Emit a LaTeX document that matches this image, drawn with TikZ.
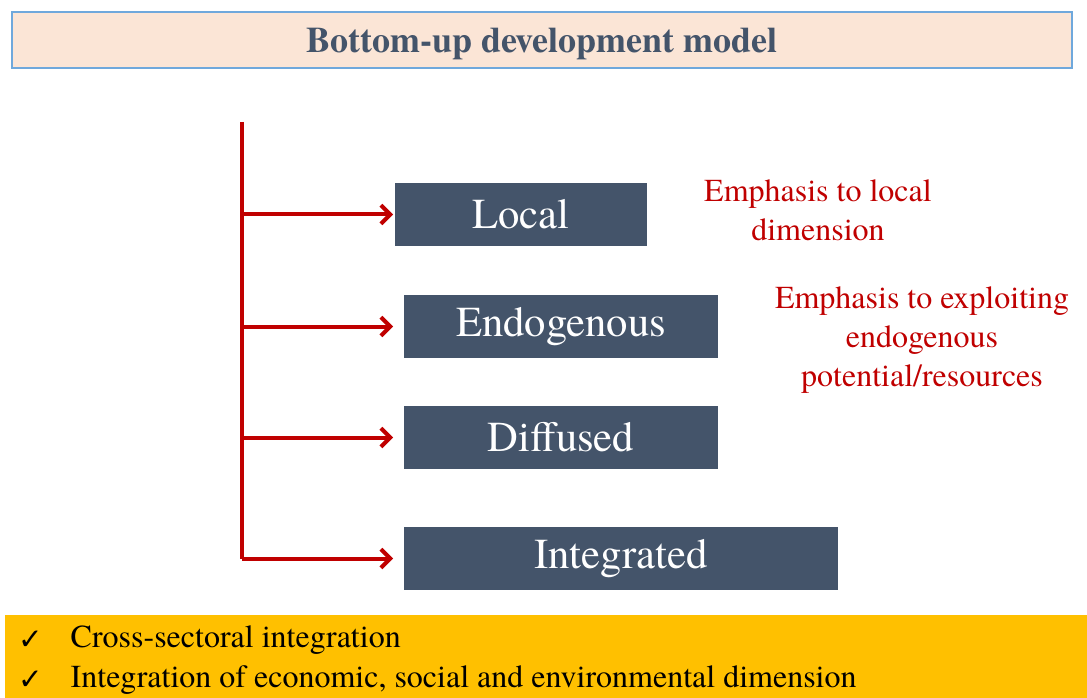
\documentclass[tikz,border=0pt]{standalone}
\usepackage{fontspec}
\setmainfont{TeX Gyre Termes}
\newfontfamily\symfont{DejaVu Sans}
\usetikzlibrary{arrows.meta}
\definecolor{slate}{HTML}{44546A}
\definecolor{darkred}{HTML}{C00000}
\definecolor{peach}{HTML}{FBE5D6}
\definecolor{frameblue}{HTML}{6FA8DC}
\definecolor{amber}{HTML}{FFC000}

\begin{document}
\begin{tikzpicture}[x=0.75pt,y=-0.75pt,
    box/.style={fill=slate, text=white, inner sep=0pt, minimum height=47.25pt,
        font=\fontsize{32}{36}\selectfont},
    note/.style={text=darkred, align=center, font=\fontsize{24}{29}\selectfont},
    branch/.style={draw=darkred, line width=3pt,
        -{Straight Barb[length=7pt,width=14pt,line width=3pt]}},
    tick/.style={font=\symfont\fontsize{22}{24}\selectfont, anchor=west},
    item/.style={anchor=west, font=\fontsize{24}{28}\selectfont}]
    \useasboundingbox (0,0) rectangle (1087,698);

    % title
    \node[draw=frameblue, line width=1pt, fill=peach, minimum width=795pt,
        minimum height=42pt, inner sep=0pt, text depth=0pt, text=slate,
        font=\bfseries\fontsize{27}{30}\selectfont] (title) at (542,40)
        {Bottom-up development model};

    % boxes
    \node[box, minimum width=189pt] (local) at (521,214.5) {Local};
    \node[box, minimum width=235.5pt] (endo) at (561,326.5) {Endogenous};
    \node[box, minimum width=235.5pt] (diff) at (561,437.5) {Diffused};
    \node[box, minimum width=325.5pt] (integ) at (621,558.5) {Integrated};

    % trunk and arrows
    \coordinate (top) at (242,122);
    \coordinate (bottom) at (242,558.5);
    \coordinate (tip) at (393,0);
    \draw[darkred, line width=3pt] (top) -- (bottom);
    \foreach \b in {local,endo,diff,integ}
        \draw[branch] (\b.west -| top) -- (\b.west -| tip);

    % notes
    \node[note] (lnote) at (818,210) {Emphasis to local\\dimension};
    \node[note] (enote) at (922,340) {Emphasis to exploiting\\endogenous\\potential/resources};

    % bottom band
    \node[fill=amber, minimum width=811.5pt, minimum height=62.25pt, inner sep=0pt,
        anchor=north west] (band) at (5,615) {};
    \node[tick] (t1) at (14,640) {✓};
    \node[tick] (t2) at (14,680) {✓};
    \node[item] (c1) at (66,640) {Cross-sectoral integration};
    \node[item] (c2) at (66,680)
        {Integration of economic, social and environmental dimension};
\end{tikzpicture}
\end{document}
